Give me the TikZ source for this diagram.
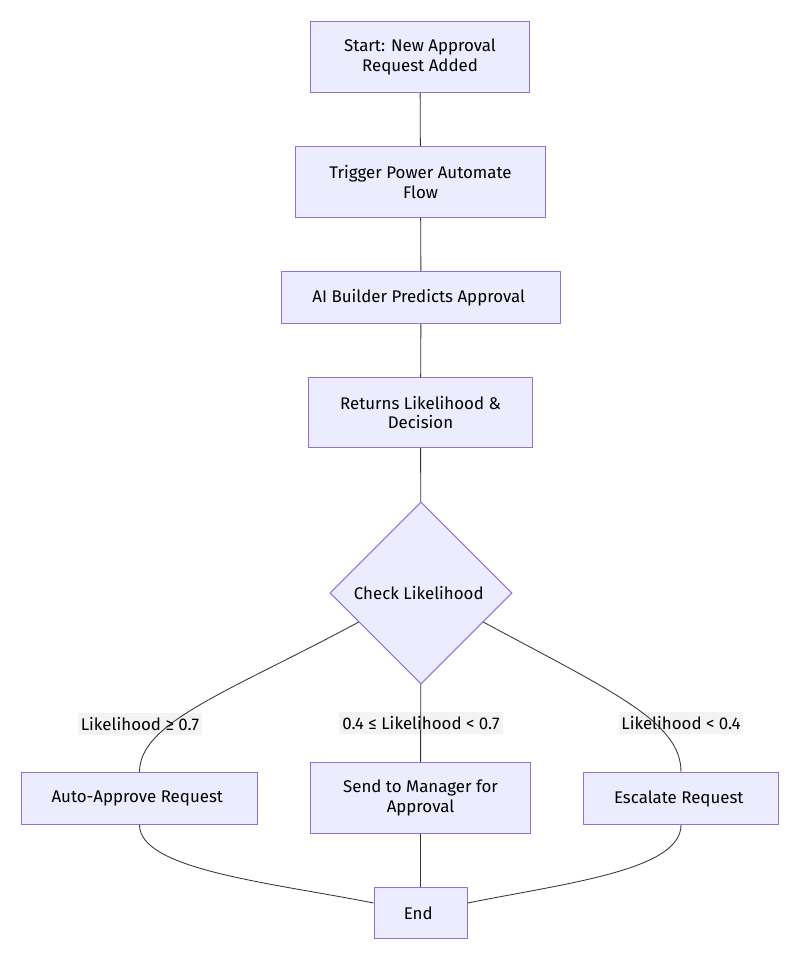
\documentclass[tikz,border=0pt]{standalone}
\usepackage{fontspec}
\setmainfont{Fira Sans}
\usepackage{xcolor}
\usetikzlibrary{shapes.geometric}

\definecolor{boxFill}{HTML}{ECECFF}
\definecolor{boxLine}{HTML}{9370DB}
\definecolor{edgeLine}{HTML}{333333}
\definecolor{labelBg}{HTML}{F3F3F3}

\tikzset{
    stepbox/.style={
        draw=boxLine,
        fill=boxFill,
        line width=0.7pt,
        align=center,
        inner sep=0pt,
        font=\fontsize{12pt}{14.2pt}\selectfont
    },
    checkbox/.style={
        stepbox,
        diamond,
        aspect=1,
        minimum width=4.55cm,
        minimum height=4.55cm
    },
    edgelabel/.style={
        fill=labelBg,
        inner xsep=2pt,
        inner ysep=3pt,
        font=\fontsize{12pt}{14.2pt}\selectfont
    },
    link/.style={
        draw=edgeLine,
        line width=0.6pt
    }
}

\begin{document}
\begin{tikzpicture}[x=0.025cm,y=-0.025cm]

        % Marco
        \useasboundingbox (0,0) rectangle (800,967);

        % =====================================================
        % FLUJO PRINCIPAL
        % =====================================================

        \node[
            stepbox,
            minimum width=5.45cm,
            minimum height=1.775cm
        ] (start) at (420,57) {
            Start: New Approval\\
            Request Added
        };

        \node[
            stepbox,
            minimum width=6.225cm,
            minimum height=1.775cm
        ] (trigger) at (420.5,182) {
            Trigger Power Automate\\
            Flow
        };

        \node[
            stepbox,
            minimum width=6.95cm,
            minimum height=1.3cm
        ] (predict) at (421,297.5) {
            AI Builder Predicts Approval
        };

        \node[
            stepbox,
            minimum width=5.575cm,
            minimum height=1.75cm
        ] (returns) at (420.5,412.5) {
            Returns Likelihood \&\\
            Decision
        };

        \node[
            checkbox
        ] (check) at (421,593) {
            Check Likelihood
        };

        % =====================================================
        % DECISIONES
        % =====================================================

        \node[
            stepbox,
            minimum width=5.875cm,
            minimum height=1.3cm
        ] (approve) at (139.5,798.5) {
            Auto-Approve Request
        };

        \node[
            stepbox,
            minimum width=5.475cm,
            minimum height=1.775cm
        ] (manager) at (420.5,798) {
            Send to Manager for\\
            Approval
        };

        \node[
            stepbox,
            minimum width=4.85cm,
            minimum height=1.3cm
        ] (escalate) at (681,798.5) {
            Escalate Request
        };

        \node[
            stepbox,
            minimum width=2.325cm,
            minimum height=1.275cm
        ] (end) at (420.5,913) {
            End
        };

        % Etiquetas
        \node[edgelabel] (lblHigh) at (140,724) {Likelihood ≥ 0.7};
        \node[edgelabel] (lblMid) at (421,723) {0.4 ≤ Likelihood < 0.7};
        \node[edgelabel] (lblLow) at (681,723) {Likelihood < 0.4};

        % =====================================================
        % CONEXIONES
        % =====================================================

        \draw[link] (start) -- (trigger);
        \draw[link] (trigger) -- (predict);
        \draw[link] (predict) -- (returns);
        \draw[link] (returns) -- (check);

        \draw[link] (check.-155)
            .. controls +(-130,70) and +(0,-50) .. (approve.north);
        \draw[link] (check) -- (manager);
        \draw[link] (check.-25)
            .. controls +(130,70) and +(0,-50) .. (escalate.north);

        \draw[link] (approve.south)
            .. controls +(0,45) and +(-100,-20) .. (end.168);
        \draw[link] (manager) -- (end);
        \draw[link] (escalate.south)
            .. controls +(0,45) and +(100,-20) .. (end.12);

    \end{tikzpicture}
\end{document}
